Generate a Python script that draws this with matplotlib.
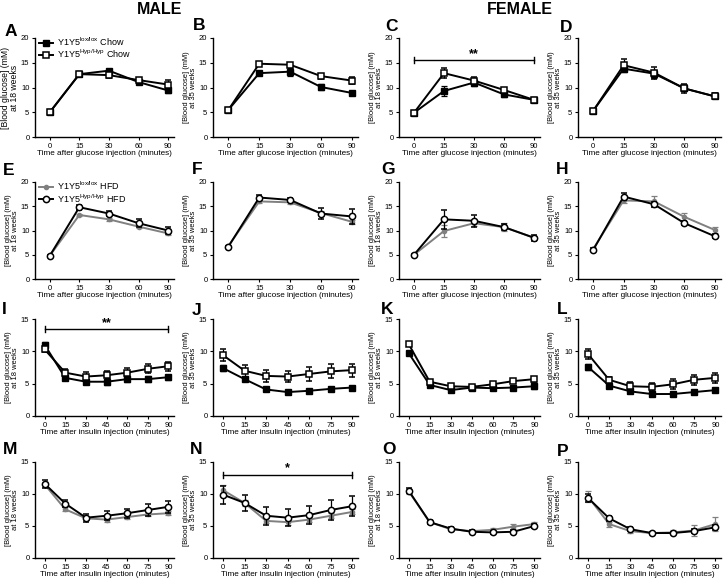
import numpy as np
import matplotlib
matplotlib.use("Agg")
import matplotlib.pyplot as plt
from matplotlib.lines import Line2D

plt.rcParams["font.family"] = ["Liberation Sans", "DejaVu Sans"]
plt.rcParams["mathtext.fontset"] = "custom"
plt.rcParams["mathtext.rm"] = "Liberation Sans"

# glucose tolerance (categorical time points) and insulin tolerance (minutes)
gtt_labels = ["0", "15", "30", "60", "90"]
itt_times = [0, 15, 30, 45, 60, 75, 90]

# --- GTT, chow (ctrl = lox/lox filled, mut = Hyp/Hyp open) ---
A_ctrl = [5.0, 12.7, 13.4, 11.1, 9.4]
A_ctrl_err = [0.2, 0.4, 0.4, 0.4, 0.5]
A_mut = [5.0, 12.7, 12.5, 11.5, 10.6]
A_mut_err = [0.2, 0.5, 0.5, 0.5, 0.9]

B_ctrl = [5.5, 12.9, 13.2, 10.1, 8.9]
B_ctrl_err = [0.2, 0.4, 0.8, 0.6, 0.4]
B_mut = [5.5, 14.8, 14.6, 12.3, 11.4]
B_mut_err = [0.2, 0.3, 0.4, 0.5, 0.7]

C_ctrl = [4.9, 9.3, 11.0, 8.6, 7.5]
C_ctrl_err = [0.2, 1.1, 0.7, 0.5, 0.3]
C_mut = [4.9, 12.9, 11.4, 9.5, 7.5]
C_mut_err = [0.2, 1.0, 0.7, 0.4, 0.3]

D_ctrl = [5.3, 13.8, 12.8, 9.8, 8.2]
D_ctrl_err = [0.2, 0.6, 0.8, 0.6, 0.4]
D_mut = [5.3, 14.5, 13.0, 9.8, 8.2]
D_mut_err = [0.2, 1.3, 1.2, 0.9, 0.6]

# --- GTT, HFD (ctrl = lox/lox grey, mut = Hyp/Hyp open black) ---
E_ctrl = [4.8, 13.2, 12.3, 10.8, 9.4]
E_ctrl_err = [0.2, 0.3, 0.3, 0.3, 0.3]
E_mut = [4.8, 14.8, 13.5, 11.5, 10.0]
E_mut_err = [0.2, 0.5, 0.5, 0.8, 0.7]

F_ctrl = [6.8, 16.0, 15.8, 13.6, 11.8]
F_ctrl_err = [0.2, 0.3, 0.3, 0.5, 0.4]
F_mut = [6.7, 16.8, 16.3, 13.5, 12.9]
F_mut_err = [0.2, 0.5, 0.5, 1.2, 1.5]

G_ctrl = [5.0, 9.9, 11.5, 10.7, 8.5]
G_ctrl_err = [0.2, 1.3, 0.5, 0.8, 0.4]
G_mut = [5.0, 12.3, 12.0, 10.7, 8.5]
G_mut_err = [0.2, 2.0, 1.2, 0.6, 0.6]

H_ctrl = [6.2, 16.2, 16.0, 12.8, 10.1]
H_ctrl_err = [0.3, 0.5, 1.2, 0.8, 0.6]
H_mut = [6.0, 17.0, 15.4, 11.5, 8.8]
H_mut_err = [0.3, 0.7, 0.5, 0.4, 0.4]

# --- ITT, chow ---
I_ctrl = [11.0, 5.9, 5.3, 5.3, 5.7, 5.7, 6.0]
I_ctrl_err = [0.5, 0.4, 0.4, 0.5, 0.5, 0.5, 0.4]
I_mut = [10.3, 6.7, 6.1, 6.3, 6.7, 7.3, 7.7]
I_mut_err = [0.4, 0.5, 0.7, 0.7, 0.7, 0.7, 0.7]

J_ctrl = [7.4, 5.7, 4.1, 3.7, 3.9, 4.2, 4.4]
J_ctrl_err = [0.5, 0.3, 0.3, 0.3, 0.3, 0.3, 0.3]
J_mut = [9.4, 7.0, 6.2, 6.1, 6.5, 6.9, 7.1]
J_mut_err = [0.9, 0.9, 0.9, 0.9, 1.1, 1.1, 1.0]

K_ctrl = [9.7, 4.8, 4.0, 4.4, 4.3, 4.4, 4.6]
K_ctrl_err = [0.2, 0.2, 0.2, 0.2, 0.3, 0.3, 0.5]
K_mut = [11.1, 5.3, 4.6, 4.5, 4.9, 5.4, 5.7]
K_mut_err = [0.3, 0.3, 0.3, 0.2, 0.3, 0.3, 0.4]

L_ctrl = [7.6, 4.7, 3.8, 3.4, 3.4, 3.7, 4.0]
L_ctrl_err = [0.5, 0.3, 0.3, 0.3, 0.2, 0.3, 0.3]
L_mut = [9.6, 5.6, 4.6, 4.5, 4.9, 5.6, 5.9]
L_mut_err = [0.8, 0.5, 0.6, 0.6, 0.8, 0.8, 0.8]

# --- ITT, HFD ---
M_ctrl = [11.5, 7.6, 6.2, 6.0, 6.4, 6.8, 7.0]
M_ctrl_err = [0.4, 0.3, 0.2, 0.3, 0.3, 0.3, 0.3]
M_mut = [11.6, 8.5, 6.3, 6.6, 7.0, 7.5, 8.0]
M_mut_err = [0.6, 0.6, 0.6, 0.7, 0.7, 0.9, 0.9]

N_ctrl = [10.6, 8.6, 5.8, 5.6, 6.0, 6.6, 7.2]
N_ctrl_err = [0.8, 0.5, 0.4, 0.4, 0.4, 0.4, 0.4]
N_mut = [9.9, 8.6, 6.6, 6.3, 6.7, 7.5, 8.1]
N_mut_err = [1.4, 1.2, 1.4, 1.3, 1.4, 1.6, 1.6]

O_ctrl = [10.4, 5.6, 4.5, 4.2, 4.4, 4.9, 5.3]
O_ctrl_err = [0.4, 0.3, 0.2, 0.2, 0.3, 0.4, 0.3]
O_mut = [10.5, 5.6, 4.6, 4.1, 4.0, 4.1, 5.0]
O_mut_err = [0.4, 0.3, 0.2, 0.2, 0.2, 0.2, 0.3]

P_ctrl = [9.6, 5.3, 4.2, 3.9, 4.0, 4.3, 5.3]
P_ctrl_err = [0.8, 0.4, 0.3, 0.2, 0.3, 0.8, 1.1]
P_mut = [9.4, 6.2, 4.5, 3.9, 3.9, 4.2, 4.8]
P_mut_err = [0.6, 0.4, 0.3, 0.2, 0.2, 0.3, 0.4]

GREY = "#808080"
W, H = 728, 584
fig = plt.figure(figsize=(W / 100, H / 100), dpi=100)

# marker styles: chow filled/open squares, HFD grey dots / open black circles
CHOW_CTRL = dict(color="black", marker="s", ms=4, mfc="black", mec="black", lw=1.4)
CHOW_MUT = dict(color="black", marker="s", ms=4.3, mfc="white", mec="black", mew=1.1, lw=1.4)
HFD_CTRL = dict(color=GREY, marker="o", ms=3, mfc=GREY, mec=GREY, lw=1.4)
HFD_MUT = dict(color="black", marker="o", ms=4.5, mfc="white", mec="black", mew=1.1, lw=1.4)


def add_ax(l, t, r, b):
    return fig.add_axes([l / W, 1 - b / H, (r - l) / W, (b - t) / H])


def draw(ax, x, ctrl, ctrl_err, mut, mut_err, hfd):
    eb = dict(capsize=2, elinewidth=0.9, capthick=0.9)
    s_ctrl, s_mut = (HFD_CTRL, HFD_MUT) if hfd else (CHOW_CTRL, CHOW_MUT)
    ax.errorbar(x, ctrl, yerr=ctrl_err, zorder=3, **s_ctrl, **eb)
    ax.errorbar(x, mut, yerr=mut_err, zorder=4, **s_mut, **eb)


def style(ax, kind, weeks, ylab_size):
    for s in ["top", "right"]:
        ax.spines[s].set_visible(False)
    for s in ["left", "bottom"]:
        ax.spines[s].set_linewidth(1.0)
    ax.tick_params(length=2.5, width=0.8, labelsize=5.5, pad=1.5)
    if kind == "gtt":
        ax.set_xlim(-0.5, 4.2)
        ax.set_xticks(range(len(gtt_labels)))
        ax.set_xticklabels(gtt_labels)
        ax.set_ylim(0, 20)
        ax.set_yticks([0, 5, 10, 15, 20])
        ax.set_xlabel("Time after glucose injection (minutes)", fontsize=5.9, labelpad=0.5)
    else:
        ax.set_xlim(-7, 94)
        ax.set_xticks(itt_times)
        ax.set_ylim(0, 15)
        ax.set_yticks([0, 5, 10, 15])
        ax.set_xlabel("Time after insulin injection (minutes)", fontsize=5.9, labelpad=0.5)
    ax.set_ylabel(f"[Blood glucose] (mM)\nat {weeks} weeks", fontsize=ylab_size,
                  linespacing=1.0, labelpad=1.5)


def sig(ax, x0, x1, y, h, txt):
    ax.plot([x0, x1], [y, y], color="black", lw=1.0)
    ax.plot([x0, x0], [y - h, y + h], color="black", lw=1.0)
    ax.plot([x1, x1], [y - h, y + h], color="black", lw=1.0)
    ax.text((x0 + x1) / 2, y + h * 0.2, txt, ha="center", va="bottom",
            fontsize=9, fontweight="bold")


cols = [(35, 174), (213, 358), (399, 540), (578, 721)]
rows = [(38, 137), (182, 279), (319, 416), (462, 558)]

gx = np.arange(len(gtt_labels))
panels = [
    ("A", 0, 0, "gtt", 18, False, A_ctrl, A_ctrl_err, A_mut, A_mut_err),
    ("B", 0, 1, "gtt", 35, False, B_ctrl, B_ctrl_err, B_mut, B_mut_err),
    ("C", 0, 2, "gtt", 18, False, C_ctrl, C_ctrl_err, C_mut, C_mut_err),
    ("D", 0, 3, "gtt", 35, False, D_ctrl, D_ctrl_err, D_mut, D_mut_err),
    ("E", 1, 0, "gtt", 18, True, E_ctrl, E_ctrl_err, E_mut, E_mut_err),
    ("F", 1, 1, "gtt", 35, True, F_ctrl, F_ctrl_err, F_mut, F_mut_err),
    ("G", 1, 2, "gtt", 18, True, G_ctrl, G_ctrl_err, G_mut, G_mut_err),
    ("H", 1, 3, "gtt", 35, True, H_ctrl, H_ctrl_err, H_mut, H_mut_err),
    ("I", 2, 0, "itt", 18, False, I_ctrl, I_ctrl_err, I_mut, I_mut_err),
    ("J", 2, 1, "itt", 35, False, J_ctrl, J_ctrl_err, J_mut, J_mut_err),
    ("K", 2, 2, "itt", 18, False, K_ctrl, K_ctrl_err, K_mut, K_mut_err),
    ("L", 2, 3, "itt", 35, False, L_ctrl, L_ctrl_err, L_mut, L_mut_err),
    ("M", 3, 0, "itt", 18, True, M_ctrl, M_ctrl_err, M_mut, M_mut_err),
    ("N", 3, 1, "itt", 35, True, N_ctrl, N_ctrl_err, N_mut, N_mut_err),
    ("O", 3, 2, "itt", 18, True, O_ctrl, O_ctrl_err, O_mut, O_mut_err),
    ("P", 3, 3, "itt", 35, True, P_ctrl, P_ctrl_err, P_mut, P_mut_err),
]

axes = {}
for name, r, c, kind, weeks, hfd, ctrl, ce, mut, me in panels:
    l, rr = cols[c]
    t, b = rows[r]
    ax = add_ax(l, t, rr, b)
    x = gx if kind == "gtt" else itt_times
    draw(ax, x, ctrl, ce, mut, me, hfd)
    style(ax, kind, weeks, 6.2 if name == "A" else 5.4)
    axes[name] = ax

# legends (plain line+marker handles, no error bars)
leg_kw = dict(loc="upper left", bbox_to_anchor=(0.0, 1.06), frameon=False,
              fontsize=6.5, handlelength=1.6, handletextpad=0.4,
              labelspacing=0.0, borderaxespad=0)
axes["A"].legend([Line2D([], [], **CHOW_CTRL), Line2D([], [], **CHOW_MUT)],
                 ["Y1Y5$^{\\mathrm{lox/lox}}$ Chow", "Y1Y5$^{\\mathrm{Hyp/Hyp}}$ Chow"], **leg_kw)
axes["E"].legend([Line2D([], [], **HFD_CTRL), Line2D([], [], **HFD_MUT)],
                 ["Y1Y5$^{\\mathrm{lox/lox}}$ HFD", "Y1Y5$^{\\mathrm{Hyp/Hyp}}$ HFD"], **leg_kw)

# significance bars
sig(axes["C"], 0, 4, 15.5, 0.6, "**")
sig(axes["I"], 0, 90, 13.4, 0.45, "**")
sig(axes["N"], 0, 90, 13.0, 0.45, "*")

# panel letters
letters = {
    "A": (5, 27), "B": (193, 21), "C": (385, 22), "D": (560, 23),
    "E": (3, 166), "F": (192, 165), "G": (381, 165), "H": (556, 165),
    "I": (2, 305), "J": (192, 306), "K": (381, 305), "L": (557, 305),
    "M": (3, 445), "N": (190, 445), "O": (382, 445), "P": (557, 447),
}
for k, (px, py) in letters.items():
    fig.text(px / W, 1 - (py - 3) / H, k, fontsize=12.5, fontweight="bold",
             va="top", ha="left")

fig.text(137 / W, 1 - 2 / H, "MALE", fontsize=11.5, fontweight="bold", va="top", ha="left")
fig.text(487 / W, 1 - 2 / H, "FEMALE", fontsize=11.5, fontweight="bold", va="top", ha="left")

fig.savefig("out.png", dpi=100)
